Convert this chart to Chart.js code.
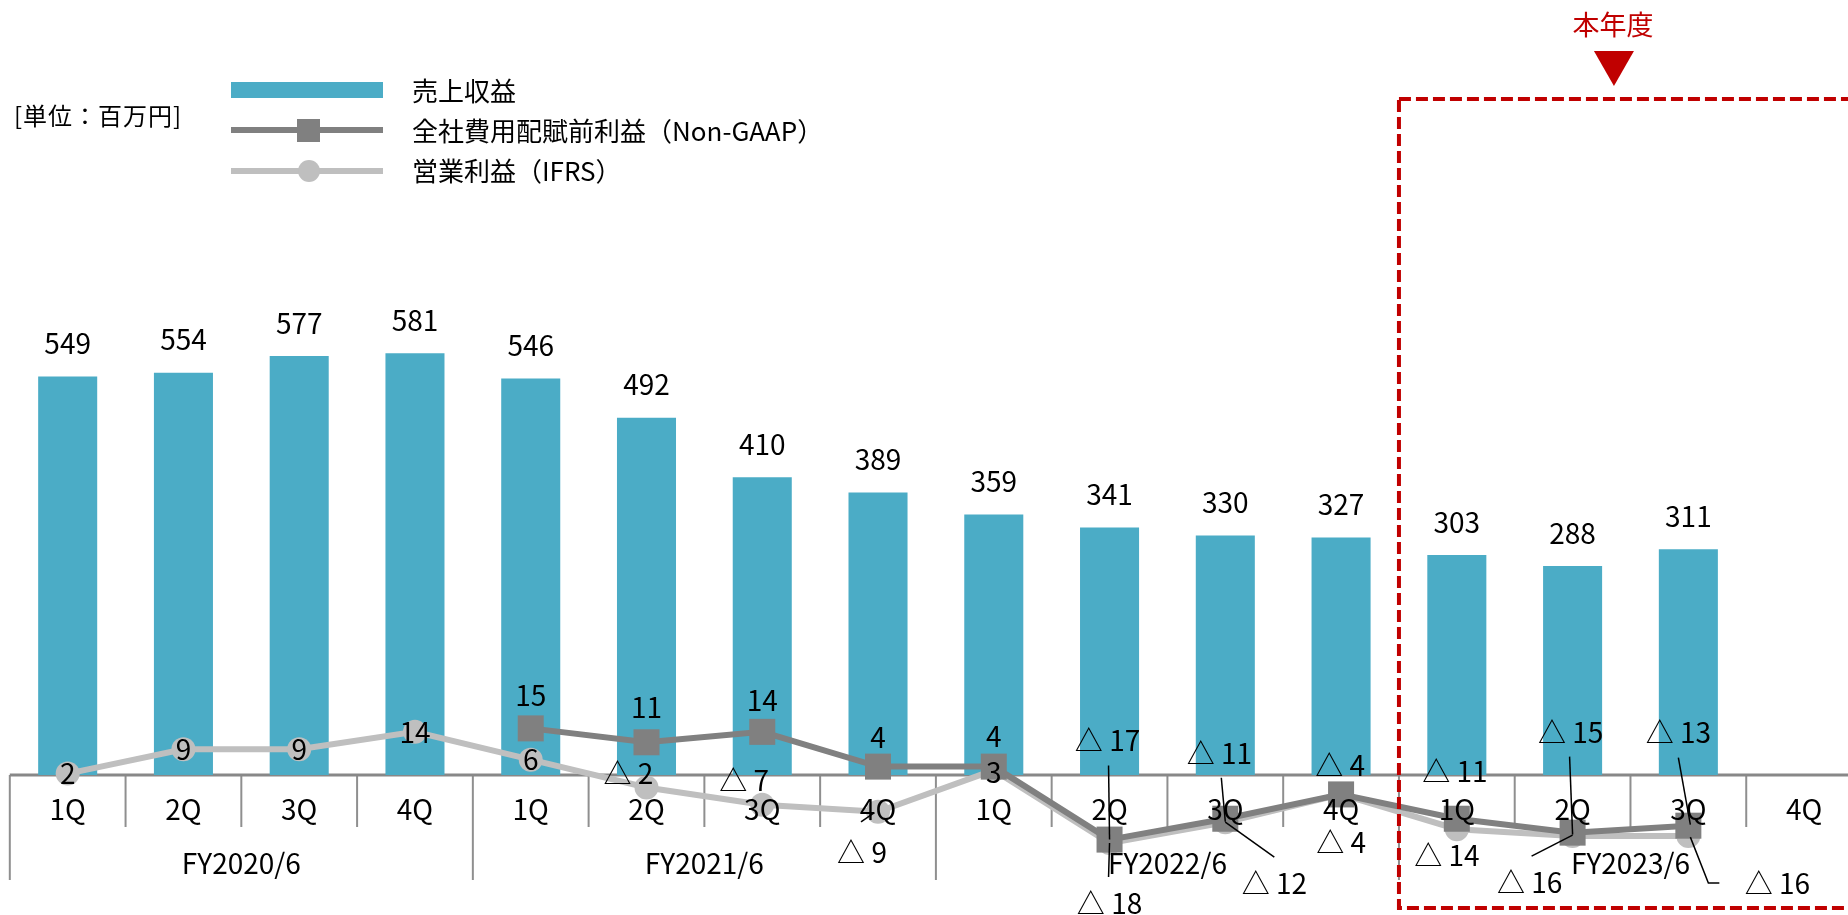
<!DOCTYPE html>
<html lang="ja">
<head>
<meta charset="utf-8">
<title>売上収益・利益推移</title>
<script src="https://cdn.jsdelivr.net/npm/chart.js@4.4.1/dist/chart.umd.min.js"></script>
<style>
  html, body { margin: 0; padding: 0; background: #fff; overflow: hidden; }
  #wrap { position: relative; width: 1848px; height: 915px; overflow: hidden; font-family: "Noto Sans CJK JP", sans-serif; color: #000; }
  #profitChart { position: absolute; left: 0; top: 0; width: 1862px; height: 915px; }
  .unit { position: absolute; left: 14px; top: 100px; font-size: 24px; line-height: 30px; letter-spacing: 1px; }
  .lg-text { position: absolute; left: 412px; font-size: 26px; line-height: 30px; white-space: nowrap; }
  .lg-bar { position: absolute; left: 231px; top: 82px; width: 152px; height: 16px; background: #4BACC6; }
  .lg-line { position: absolute; left: 231px; width: 152px; height: 6px; }
  .lg-mark { position: absolute; }
</style>
</head>
<body>
<div id="wrap">
  <canvas id="profitChart" width="1862" height="915"></canvas>
  <div class="unit">[単位：百万円]</div>
  <div class="lg-bar"></div>
  <div class="lg-text" style="top:75px">売上収益</div>
  <div class="lg-line" style="top:127px;background:#808080"></div>
  <div class="lg-mark" style="left:297px;top:119px;width:23px;height:23px;background:#808080"></div>
  <div class="lg-text" style="top:115px">全社費用配賦前利益（Non-GAAP）</div>
  <div class="lg-line" style="top:168px;background:#BFBFBF"></div>
  <div class="lg-mark" style="left:298px;top:160px;width:22px;height:22px;border-radius:50%;background:#BFBFBF"></div>
  <div class="lg-text" style="top:155px">営業利益（IFRS）</div>
</div>
<script>
const quarterLabels = ['1Q', '2Q', '3Q', '4Q', '1Q', '2Q', '3Q', '4Q', '1Q', '2Q', '3Q', '4Q', '1Q', '2Q', '3Q', '4Q'];
const fiscalYears = ['FY2020/6', 'FY2021/6', 'FY2022/6', 'FY2023/6'];
const revenue = [549, 554, 577, 581, 546, 492, 410, 389, 359, 341, 330, 327, 303, 288, 311, null];
const nonGaapProfit = [null, null, null, null, 15, 11, 14, 4, 4, -17, -11, -4, -11, -15, -13, null];
const ifrsProfit = [2, 9, 9, 14, 6, -2, -7, -9, 3, -18, -12, -4, -14, -16, -16, null];

// ラベルの位置調整 (点からのずれ px) と引出線
const nonGaapLabelPos = [null, null, null, null, [0, -33], [0, -35], [0, -32], [0, -29], [0, -30],
  [-2, -99], [-6, -65], [-1, -29], [-2, -47], [-2, -100], [-10, -93], null];
const nonGaapLeaders = { 9: [[-1, -74], [0, 0]], 10: [[-4, -41], [0, 3]], 13: [[-3, -76], [0, 2]], 14: [[-10, -68], [2, -1]] };
const ifrsLabelPos = [[0, 0], [0, 0], [0, 0], [0, 0], [0, 0], [-18, -14], [-18, -24], [-16, 41], [0, 2],
  [0, 60], [49, 61], [0, 48], [-10, 26], [-43, 46], [89, 47], null];
const ifrsLeaders = { 7: [[-17, 10], [-4, 1]], 9: [[0, 0], [-1, 34]], 10: [[0, 0], [49, 35]], 13: [[-41, 20], [0, -1]], 14: [[2, 1], [20, 47], [31, 47]] };

const FONT = '"Noto Sans CJK JP", sans-serif';

function fmt(v) {
    return v < 0 ? '△ ' + Math.abs(v) : String(v);
}

const quarterAxis = {
    id: 'quarterAxis',
    beforeDatasetsDraw(chart) {
        const { ctx, chartArea, scales: { x, y } } = chart;
        const base = y.getPixelForValue(0);
        const band = x.getPixelForValue(1) - x.getPixelForValue(0);
        const start = x.getPixelForValue(0) - band / 2;
        ctx.save();
        ctx.strokeStyle = '#8f8f8f';
        ctx.lineWidth = 2;
        for (let j = 0; j <= quarterLabels.length; j++) {
            const px = start + j * band;
            const len = j % 4 === 0 ? 105 : 52;
            ctx.beginPath();
            ctx.moveTo(px, base);
            ctx.lineTo(px, base + len);
            ctx.stroke();
        }
        ctx.strokeStyle = '#888888';
        ctx.lineWidth = 3;
        ctx.beginPath();
        ctx.moveTo(chartArea.left, base);
        ctx.lineTo(chartArea.right, base);
        ctx.stroke();
        ctx.restore();
    },
    afterDatasetsDraw(chart) {
        const { ctx, scales: { x, y } } = chart;
        const base = y.getPixelForValue(0);
        const band = x.getPixelForValue(1) - x.getPixelForValue(0);
        ctx.save();
        ctx.fillStyle = '#000';
        ctx.textAlign = 'center';
        ctx.textBaseline = 'middle';
        ctx.font = '28px ' + FONT;

        // 四半期・年度ラベル
        quarterLabels.forEach((q, i) => ctx.fillText(q, x.getPixelForValue(i), base + 34));
        fiscalYears.forEach((fy, g) => {
            const cx = (x.getPixelForValue(g * 4) + x.getPixelForValue(g * 4 + 3)) / 2;
            ctx.fillText(fy, cx, base + 88);
        });

        // 売上収益ラベル
        chart.getDatasetMeta(0).data.forEach((bar, i) => {
            if (revenue[i] == null) return;
            ctx.fillText(fmt(revenue[i]), bar.x, bar.y - 33);
        });

        // 利益ラベル
        const drawLine = (meta, values, pos, leaders) => {
            meta.data.forEach((pt, i) => {
                if (values[i] == null || !pos[i]) return;
                if (leaders[i]) {
                    ctx.strokeStyle = '#000';
                    ctx.lineWidth = 1.5;
                    ctx.beginPath();
                    leaders[i].forEach(([dx, dy], k) => {
                        if (k === 0) ctx.moveTo(pt.x + dx, pt.y + dy);
                        else ctx.lineTo(pt.x + dx, pt.y + dy);
                    });
                    ctx.stroke();
                }
                ctx.fillText(fmt(values[i]), pt.x + pos[i][0], pt.y + pos[i][1]);
            });
        };
        drawLine(chart.getDatasetMeta(2), ifrsProfit, ifrsLabelPos, ifrsLeaders);
        drawLine(chart.getDatasetMeta(1), nonGaapProfit, nonGaapLabelPos, nonGaapLeaders);

        // 本年度の枠
        const boxLeft = x.getPixelForValue(12) - band / 2;
        ctx.strokeStyle = '#C00000';
        ctx.lineWidth = 4;
        ctx.setLineDash([12, 5]);
        ctx.strokeRect(boxLeft, 99, 600, 809);
        ctx.setLineDash([]);
        ctx.fillStyle = '#C00000';
        ctx.font = '27px ' + FONT;
        ctx.fillText('本年度', boxLeft + 214, 25);
        ctx.beginPath();
        ctx.moveTo(boxLeft + 195, 51);
        ctx.lineTo(boxLeft + 235, 51);
        ctx.lineTo(boxLeft + 215, 86);
        ctx.closePath();
        ctx.fill();
        ctx.restore();
    }
};

new Chart(document.getElementById('profitChart'), {
    type: 'bar',
    data: {
        labels: quarterLabels,
        datasets: [{
            label: '売上収益',
            data: revenue,
            backgroundColor: '#4BACC6',
            barPercentage: 0.51,
            categoryPercentage: 1.0,
            yAxisID: 'y',
            order: 3
        }, {
            type: 'line',
            label: '全社費用配賦前利益（Non-GAAP）',
            data: nonGaapProfit,
            borderColor: '#808080',
            backgroundColor: '#808080',
            borderWidth: 6,
            pointStyle: 'rect',
            pointRadius: 18.4,
            pointBorderWidth: 0,
            tension: 0,
            yAxisID: 'y2',
            order: 1
        }, {
            type: 'line',
            label: '営業利益（IFRS）',
            data: ifrsProfit,
            borderColor: '#BFBFBF',
            backgroundColor: '#BFBFBF',
            borderWidth: 6,
            pointStyle: 'circle',
            pointRadius: 12,
            pointBorderWidth: 0,
            tension: 0,
            yAxisID: 'y2',
            order: 2
        }]
    },
    options: {
        responsive: false,
        devicePixelRatio: 1,
        animation: false,
        events: [],
        layout: { autoPadding: false, padding: { left: 9.8, right: 0, top: 0, bottom: 0 } },
        plugins: {
            legend: { display: false },
            tooltip: { enabled: false }
        },
        scales: {
            x: { display: false, offset: true },
            y: { display: false, min: -192.8, max: 1067.5 },
            y2: { display: false, min: -38.7, max: 224.6 }
        }
    },
    plugins: [quarterAxis]
});
</script>
</body>
</html>
